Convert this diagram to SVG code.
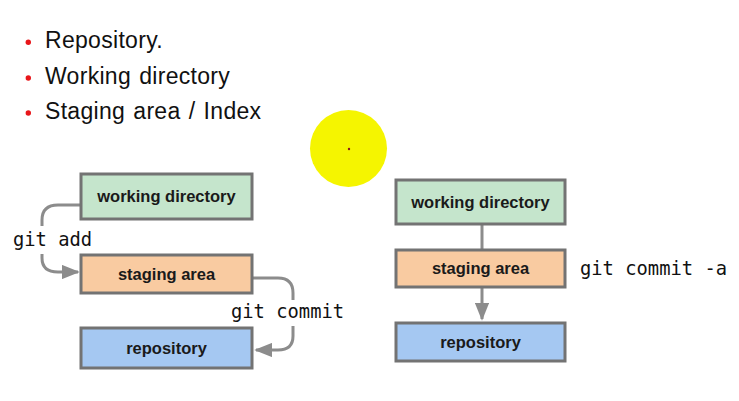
<svg xmlns="http://www.w3.org/2000/svg" width="739" height="401" viewBox="0 0 739 401">
<defs>
<style>
.bul{font-family:"Liberation Sans",Arial,sans-serif;font-size:23px;fill:#111;letter-spacing:0.3px;word-spacing:1.5px}
.dot{fill:#e8161a}
.box{stroke:#737373;stroke-width:3}
.wd{fill:#c5e5cc}
.sa{fill:#f9cba1}
.rp{fill:#a5c8f2}
.lbl{font-family:"Liberation Sans",Arial,sans-serif;font-weight:bold;font-size:16.5px;fill:#1a1a1a;text-anchor:middle}
.code{font-family:"DejaVu Sans Mono","Liberation Mono",monospace;font-size:18.8px;fill:#111}
.con{fill:none;stroke:#8c8c8c;stroke-width:3}
</style>
<marker id="ah" viewBox="0 0 10 8" refX="9" refY="4" markerWidth="6" markerHeight="4.8" markerUnits="strokeWidth" orient="auto">
<path d="M0,0 L10,4 L0,8 z" fill="#8c8c8c"/>
</marker>
</defs>
<rect width="739" height="401" fill="#ffffff"/>
<g id="bullets">
<circle class="dot" cx="28.3" cy="42.3" r="2.7"/>
<text class="bul" x="45" y="48.3">Repository.</text>
<circle class="dot" cx="28.3" cy="78" r="2.7"/>
<text class="bul" x="45" y="84">Working directory</text>
<circle class="dot" cx="28.3" cy="113" r="2.7"/>
<text class="bul" x="45" y="119">Staging area / Index</text>
</g>
<g id="pointer">
<circle cx="348.5" cy="148.5" r="38.5" fill="#f5f500"/>
<circle cx="349" cy="149" r="1.2" fill="#8b1a1a"/>
</g>
<g id="connectors">
<path class="con" d="M81,205 L58,205 Q42,205 42,220 L42,226"/>
<path class="con" d="M42,254 L42,258 Q42,272 58,272 L78,272" marker-end="url(#ah)"/>
<path class="con" d="M252,278 L278,278 Q293,278 293,293 L293,300"/>
<path class="con" d="M293,326 L293,336 Q293,350 278,350 L256,350" marker-end="url(#ah)"/>
<path class="con" d="M482,224 L482,250"/>
<path class="con" d="M482,287 L482,319" marker-end="url(#ah)"/>
</g>
<g id="left-working-directory">
<rect class="box wd" x="81" y="174" width="171" height="45"/>
<text class="lbl" x="166.5" y="202">working directory</text>
</g>
<g id="left-staging-area">
<rect class="box sa" x="81" y="255" width="171" height="38"/>
<text class="lbl" x="166.5" y="280">staging area</text>
</g>
<g id="left-repository">
<rect class="box rp" x="81" y="328" width="171" height="40"/>
<text class="lbl" x="166.5" y="354">repository</text>
</g>
<g id="right-working-directory">
<rect class="box wd" x="396" y="180" width="169" height="44"/>
<text class="lbl" x="480.5" y="208">working directory</text>
</g>
<g id="right-staging-area">
<rect class="box sa" x="396" y="250" width="169" height="37"/>
<text class="lbl" x="480.5" y="274">staging area</text>
</g>
<g id="right-repository">
<rect class="box rp" x="396" y="323" width="169" height="38"/>
<text class="lbl" x="480.5" y="348">repository</text>
</g>
<g id="labels">
<text class="code" x="13" y="246">git add</text>
<text class="code" x="231" y="318">git commit</text>
<text class="code" x="580" y="275">git commit -a</text>
</g>
</svg>
